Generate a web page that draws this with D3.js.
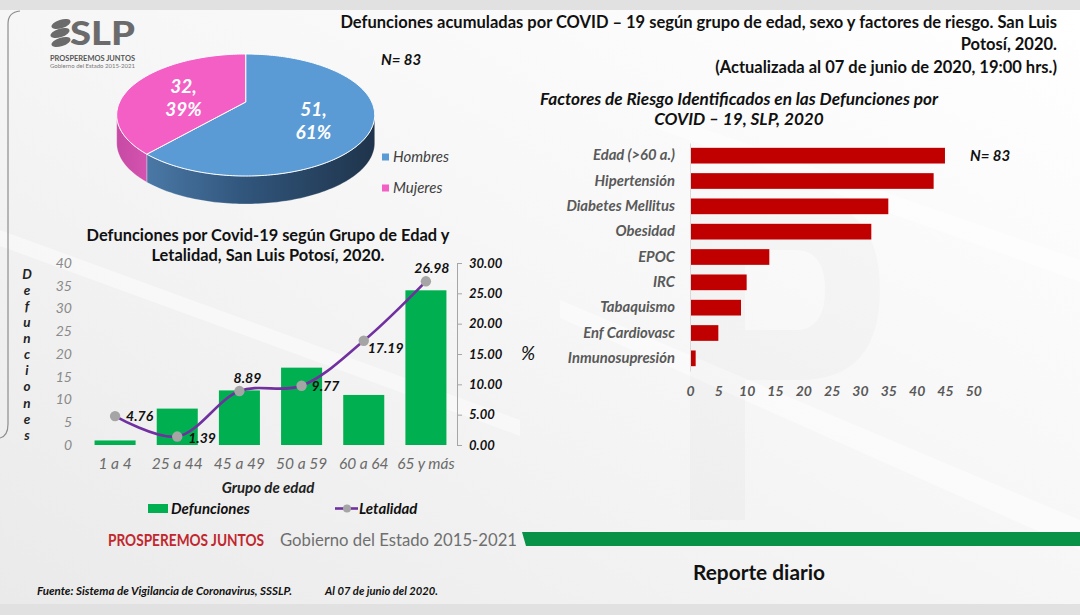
<!DOCTYPE html>
<html><head><meta charset="utf-8">
<script src="https://cdn.jsdelivr.net/npm/d3@7"></script>
<style>
body{margin:0;background:#e2e2e2}
svg{display:block;font-family:Lato, "Open Sans", sans-serif}
</style></head>
<body>
<svg id="c" width="1080" height="615"></svg>
<script>
// ---------- DATA ----------
const sexCategories = ["Hombres", "Mujeres"];
const sexValues = [51, 32];
const totalN = 83;

const ageGroups = ["1 a 4", "25 a 44", "45 a 49", "50 a 59", "60 a 64", "65 y más"];
const deaths = [1, 8, 12, 17, 11, 34];
const lethality = [4.76, 1.39, 8.89, 9.77, 17.19, 26.98];
const deathTicks = [0, 5, 10, 15, 20, 25, 30, 35, 40];
const lethalityTicks = [0, 5, 10, 15, 20, 25, 30];

const riskFactors = ["Edad (>60 a.)", "Hipertensión", "Diabetes Mellitus", "Obesidad", "EPOC", "IRC", "Tabaquismo", "Enf Cardiovasc", "Inmunosupresión"];
const riskValues = [45, 43, 35, 32, 14, 10, 9, 5, 1];
const riskTicks = [0, 5, 10, 15, 20, 25, 30, 35, 40, 45, 50];

// ---------- SETUP ----------
const svg = d3.select("#c");
const defs = svg.append("defs");

const bg = defs.append("linearGradient").attr("id", "bg").attr("x1", 0).attr("y1", 1).attr("x2", 1).attr("y2", 0);
bg.append("stop").attr("offset", 0).attr("stop-color", "#eaeaea");
bg.append("stop").attr("offset", 0.55).attr("stop-color", "#f7f7f7");
bg.append("stop").attr("offset", 1).attr("stop-color", "#ffffff");

const sideBlue = defs.append("linearGradient").attr("id", "sideBlue").attr("x1", 0).attr("y1", 0).attr("x2", 1).attr("y2", 0);
sideBlue.append("stop").attr("offset", 0).attr("stop-color", "#4a78a6");
sideBlue.append("stop").attr("offset", 0.45).attr("stop-color", "#30547a");
sideBlue.append("stop").attr("offset", 1).attr("stop-color", "#1f344b");
const sidePink = defs.append("linearGradient").attr("id", "sidePink").attr("x1", 0).attr("y1", 0).attr("x2", 1).attr("y2", 0);
sidePink.append("stop").attr("offset", 0).attr("stop-color", "#c64aa3");
sidePink.append("stop").attr("offset", 1).attr("stop-color", "#d453b0");

// background
svg.append("rect").attr("width", 1080).attr("height", 615).attr("fill", "#e1e1e1");
svg.append("rect").attr("x", 0).attr("y", 10).attr("width", 1080).attr("height", 594).attr("fill", "url(#bg)");
const streaks = [[[0, 230], [520, 420], [520, 436], [0, 246]], [[560, 300], [1080, 520], [1080, 550], [560, 318]], [[650, 110], [1080, 260], [1080, 282], [650, 126]]];
svg.selectAll(".streak").data(streaks).join("polygon").attr("class", "streak")
  .attr("points", d => d.map(p => p.join(",")).join(" ")).attr("fill", "#ffffff").attr("opacity", 0.45);
svg.append("path").attr("d", "M690,200 L800,200 Q880,200 880,290 Q880,380 800,380 L745,380 L745,520 L690,520 Z M745,250 L745,330 L795,330 Q825,330 825,290 Q825,250 795,250 Z")
  .attr("fill", "#000").attr("fill-rule", "evenodd").attr("opacity", 0.02);
svg.append("path").attr("d", "M0,438 Q8,436 8,424 L8,24 Q8,12 20,11").attr("fill", "none").attr("stroke", "#8d8d8d").attr("stroke-width", 1.2);

// ---------- LOGO ----------
const logo = svg.append("g").attr("fill", "#6b6b6b");
[[61, 24], [60, 33], [61, 42]].forEach(p => logo.append("ellipse").attr("cx", p[0]).attr("cy", p[1]).attr("rx", 10).attr("ry", 4.2).attr("transform", `rotate(-18 ${p[0]} ${p[1]})`));
logo.append("text").attr("x", 70).attr("y", 45).attr("font-size", 32).attr("font-weight", 900).attr("textLength", 65).attr("lengthAdjust", "spacingAndGlyphs").text("SLP");
logo.append("text").attr("x", 50).attr("y", 61).attr("font-size", 8).attr("font-weight", 700).attr("fill", "#555").attr("textLength", 85).attr("lengthAdjust", "spacingAndGlyphs").text("PROSPEREMOS JUNTOS");
logo.append("text").attr("x", 50).attr("y", 68).attr("font-size", 5.5).attr("fill", "#777").attr("textLength", 85).attr("lengthAdjust", "spacingAndGlyphs").text("Gobierno del Estado 2015-2021");

// ---------- MAIN TITLE ----------
const titleLines = ["Defunciones acumuladas por COVID – 19 según grupo de edad, sexo y factores de riesgo. San Luis", "Potosí, 2020.", "(Actualizada al 07 de junio de 2020, 19:00 hrs.)"];
svg.append("g").selectAll("text").data(titleLines).join("text")
  .attr("x", 1057).attr("y", (d, i) => 22 + i * 22.5).attr("dy", "0.35em")
  .attr("text-anchor", "end").attr("font-size", 16.5).attr("font-weight", 700).attr("fill", "#111").text(d => d);

// ---------- 3D PIE ----------
const P = { cx: 245.7, cy: 115, rx: 129, ry: 61, a: -0.213, depth: 28 };
function proj(theta, r = 1) {
  const u = r * Math.sin(theta), v = -r * Math.cos(theta);
  const k = 1 + P.a * v, s = Math.sqrt(1 - P.a * P.a);
  return [P.cx + P.rx * u * s / k, P.cy + P.ry * (v + P.a) / k];
}
function arcPts(t0, t1) {
  const n = Math.max(2, Math.ceil(Math.abs(t1 - t0) / 0.02));
  return d3.range(n + 1).map(i => proj(t0 + (t1 - t0) * i / n));
}
const pieData = d3.pie().sort(null)(sexValues);
const topColors = ["#5b9bd5", "#f35fc5"];
const sideFills = ["url(#sideBlue)", "url(#sidePink)"];
const vis0 = Math.acos(P.a), vis1 = 2 * Math.PI - Math.acos(P.a);
const pieG = svg.append("g");
pieG.selectAll(".side").data(pieData).join("path").attr("class", "side")
  .attr("d", d => {
    const lo = Math.max(d.startAngle, vis0), hi = Math.min(d.endAngle, vis1);
    if (hi <= lo) return null;
    const top = arcPts(lo, hi);
    const bot = top.slice().reverse().map(p => [p[0], p[1] + P.depth]);
    return "M" + top.concat(bot).map(p => p.join(",")).join("L") + "Z";
  })
  .attr("fill", (d, i) => sideFills[i]).attr("stroke", "#ffffff").attr("stroke-opacity", 0.35).attr("stroke-width", 0.8);
pieG.selectAll(".top").data(pieData).join("path").attr("class", "top")
  .attr("d", d => {
    const c = proj(0, 0);
    return "M" + [c].concat(arcPts(d.startAngle, d.endAngle)).map(p => p.join(",")).join("L") + "Z";
  })
  .attr("fill", (d, i) => topColors[i]).attr("stroke", "#ffffff").attr("stroke-width", 1);
const pieLab = pieG.selectAll(".plab").data(pieData).join("text").attr("class", "plab")
  .attr("transform", d => { const p = proj((d.startAngle + d.endAngle) / 2, 0.55); return `translate(${p[0]},${p[1] + 7})`; })
  .attr("text-anchor", "middle").attr("font-size", 19).attr("font-weight", 700).attr("font-style", "italic").attr("fill", "#fff");
pieLab.append("tspan").attr("x", 0).attr("y", -11.5).attr("dy", "0.35em").text(d => d.data + ",");
pieLab.append("tspan").attr("x", 0).attr("y", 11.5).attr("dy", "0.35em").text(d => Math.round(d.data / totalN * 100) + "%");
const pieLeg = svg.append("g").selectAll("g").data(sexCategories).join("g").attr("transform", (d, i) => `translate(382,${157 + i * 31})`);
pieLeg.append("rect").attr("x", 0).attr("y", -3.5).attr("width", 7).attr("height", 7).attr("fill", (d, i) => topColors[i]);
pieLeg.append("text").attr("x", 11).attr("dy", "0.35em").attr("font-size", 15).attr("font-style", "italic").attr("fill", "#404040").text(d => d);
svg.append("text").attr("x", 381).attr("y", 60).attr("dy", "0.35em").attr("font-size", 15).attr("font-weight", 700).attr("font-style", "italic").attr("fill", "#111").text("N= " + totalN);

// ---------- AGE BAR + LINE ----------
const bTitle = ["Defunciones por Covid-19 según Grupo de Edad y", "Letalidad, San Luis Potosí, 2020."];
svg.append("g").selectAll("text").data(bTitle).join("text")
  .attr("x", 268).attr("y", (d, i) => 235 + i * 20).attr("dy", "0.35em").attr("text-anchor", "middle")
  .attr("font-size", 16.4).attr("font-weight", 700).attr("fill", "#111").text(d => d);

const x = d3.scaleBand().domain(ageGroups).range([84, 457]).paddingInner(0.34).paddingOuter(0.17);
const yL = d3.scaleLinear().domain([0, 40]).range([445, 263]);
const yR = d3.scaleLinear().domain([0, 30]).range([445, 263]);

const gB = svg.append("g");
gB.selectAll(".bar").data(deaths).join("rect").attr("class", "bar")
  .attr("x", (d, i) => x(ageGroups[i])).attr("width", x.bandwidth())
  .attr("y", d => yL(d)).attr("height", d => yL(0) - yL(d)).attr("fill", "#00b050");

const axL = gB.append("g").attr("transform", "translate(72,0)")
  .call(d3.axisLeft(yL).tickValues(deathTicks).tickSize(0).tickPadding(0));
axL.select(".domain").remove();
axL.selectAll("text").attr("font-size", 14).attr("font-style", "italic").attr("fill", "#8a8a8a").attr("font-family", "Lato");
const axR = gB.append("g").attr("transform", "translate(457,0)")
  .call(d3.axisRight(yR).tickValues(lethalityTicks).tickSize(5).tickPadding(7).tickFormat(d3.format(".2f")));
axR.select(".domain").attr("stroke", "#a6a6a6");
axR.selectAll("line").attr("stroke", "#a6a6a6");
axR.selectAll("text").attr("font-size", 13).attr("font-weight", 700).attr("font-style", "italic").attr("fill", "#111").attr("font-family", "Lato");
const axX = gB.append("g").attr("transform", "translate(0,445)")
  .call(d3.axisBottom(x).tickSize(0).tickPadding(13));
axX.select(".domain").remove();
axX.selectAll("text").attr("font-size", 15.5).attr("font-style", "italic").attr("fill", "#6b6b6b").attr("font-family", "Lato");

const yTitle = "Defunciones".split("");
gB.append("g").selectAll("text").data(yTitle).join("text")
  .attr("x", 27).attr("y", (d, i) => 274 + i * 16.1).attr("dy", "0.35em").attr("text-anchor", "middle")
  .attr("font-size", 13.5).attr("font-weight", 700).attr("font-style", "italic").attr("fill", "#222").text(d => d);
gB.append("text").attr("x", 528).attr("y", 353).attr("dy", "0.35em").attr("text-anchor", "middle")
  .attr("font-size", 19).attr("font-style", "italic").attr("fill", "#111").text("%");
gB.append("text").attr("x", 268).attr("y", 488).attr("dy", "0.35em").attr("text-anchor", "middle")
  .attr("font-size", 15).attr("font-weight", 700).attr("font-style", "italic").attr("fill", "#222").text("Grupo de edad");

const cx = (i) => x(ageGroups[i]) + x.bandwidth() / 2;
const line = d3.line().x((d, i) => cx(i)).y(d => yR(d)).curve(d3.curveCatmullRom.alpha(0.5));
gB.append("path").attr("d", line(lethality)).attr("fill", "none").attr("stroke", "#7030a0").attr("stroke-width", 2.6);
gB.selectAll(".pt").data(lethality).join("circle").attr("class", "pt")
  .attr("cx", (d, i) => cx(i)).attr("cy", d => yR(d)).attr("r", 5.2).attr("fill", "#a5a5a5");
const labelPlacement = [[11, 0, "start"], [11, 2, "start"], [8, -13, "middle"], [10, 0, "start"], [4, 7, "start"], [6, -13, "middle"]];
gB.selectAll(".vl").data(lethality).join("text").attr("class", "vl")
  .attr("x", (d, i) => cx(i) + labelPlacement[i][0]).attr("y", (d, i) => yR(d) + labelPlacement[i][1]).attr("dy", "0.35em")
  .attr("text-anchor", (d, i) => labelPlacement[i][2])
  .attr("font-size", 14).attr("font-weight", 700).attr("font-style", "italic").attr("fill", "#111")
  .text(d => d3.format(".2f")(d));

const lg = gB.append("g");
lg.append("rect").attr("x", 148).attr("y", 504).attr("width", 20).attr("height", 9).attr("fill", "#00b050");
lg.append("text").attr("x", 171).attr("y", 508.5).attr("dy", "0.35em").attr("font-size", 15).attr("font-weight", 700).attr("font-style", "italic").attr("fill", "#111").text("Defunciones");
lg.append("line").attr("x1", 335).attr("x2", 358).attr("y1", 508.5).attr("y2", 508.5).attr("stroke", "#7030a0").attr("stroke-width", 2.6);
lg.append("circle").attr("cx", 347).attr("cy", 508.5).attr("r", 4).attr("fill", "#a5a5a5");
lg.append("text").attr("x", 359).attr("y", 508.5).attr("dy", "0.35em").attr("font-size", 15).attr("font-weight", 700).attr("font-style", "italic").attr("fill", "#111").text("Letalidad");

// ---------- RISK FACTORS ----------
const rTitle = ["Factores de Riesgo Identificados en las Defunciones por", "COVID – 19, SLP, 2020"];
svg.append("g").selectAll("text").data(rTitle).join("text")
  .attr("x", 739).attr("y", (d, i) => 98.5 + i * 20.5).attr("dy", "0.35em").attr("text-anchor", "middle")
  .attr("font-size", 17.2).attr("font-weight", 700).attr("font-style", "italic").attr("fill", "#111").text(d => d);

const yB = d3.scaleBand().domain(riskFactors).range([143, 371]).paddingInner(0.38).paddingOuter(0.19);
const xB = d3.scaleLinear().domain([0, 50]).range([690, 973.3]);
const gR = svg.append("g");
gR.selectAll(".rbar").data(riskValues).join("rect").attr("class", "rbar")
  .attr("x", xB(0)).attr("y", (d, i) => yB(riskFactors[i])).attr("height", yB.bandwidth())
  .attr("width", d => xB(d) - xB(0)).attr("fill", "#c00000");
const axC = gR.append("g").attr("transform", "translate(690,0)")
  .call(d3.axisLeft(yB).tickSize(0).tickPadding(15));
axC.select(".domain").attr("stroke", "#d9d9d9");
axC.selectAll("text").attr("font-size", 14.8).attr("font-weight", 700).attr("font-style", "italic").attr("fill", "#595959").attr("font-family", "Lato");
const axV = gR.append("g").attr("transform", "translate(0,371)")
  .call(d3.axisBottom(xB).tickValues(riskTicks).tickSize(0).tickPadding(15));
axV.select(".domain").remove();
axV.selectAll("text").attr("font-size", 14).attr("font-weight", 700).attr("font-style", "italic").attr("fill", "#595959").attr("font-family", "Lato");
gR.append("text").attr("x", 970).attr("y", 156).attr("dy", "0.35em").attr("font-size", 15).attr("font-weight", 700).attr("font-style", "italic").attr("fill", "#111").text("N= " + totalN);

// ---------- FOOTER ----------
svg.append("text").attr("transform", "translate(108,540) scale(1,1.22)").attr("dy", "0.35em")
  .attr("font-size", 13.5).attr("font-weight", 700).attr("fill", "#c1272d").attr("textLength", 156).attr("lengthAdjust", "spacingAndGlyphs").text("PROSPEREMOS JUNTOS");
svg.append("text").attr("x", 280).attr("y", 540).attr("dy", "0.35em").attr("font-size", 17).attr("fill", "#6f6f6f").attr("textLength", 237).attr("lengthAdjust", "spacingAndGlyphs").text("Gobierno del Estado 2015-2021");
svg.append("polygon").attr("points", "522,532 1080,532 1080,546 526,546").attr("fill", "#079247");
svg.append("text").attr("x", 759).attr("y", 573).attr("dy", "0.35em").attr("text-anchor", "middle").attr("font-size", 20).attr("font-weight", 700).attr("fill", "#111").attr("textLength", 132).attr("lengthAdjust", "spacingAndGlyphs").text("Reporte diario");
svg.append("text").attr("x", 37).attr("y", 591).attr("dy", "0.35em").attr("font-size", 10.5).attr("font-weight", 700).attr("font-style", "italic").attr("fill", "#111").attr("textLength", 255).attr("lengthAdjust", "spacingAndGlyphs").text("Fuente: Sistema de Vigilancia de Coronavirus, SSSLP.");
svg.append("text").attr("x", 325).attr("y", 591).attr("dy", "0.35em").attr("font-size", 10.5).attr("font-weight", 700).attr("font-style", "italic").attr("fill", "#111").attr("textLength", 113).attr("lengthAdjust", "spacingAndGlyphs").text("Al 07 de junio del 2020.");
</script>
</body></html>
